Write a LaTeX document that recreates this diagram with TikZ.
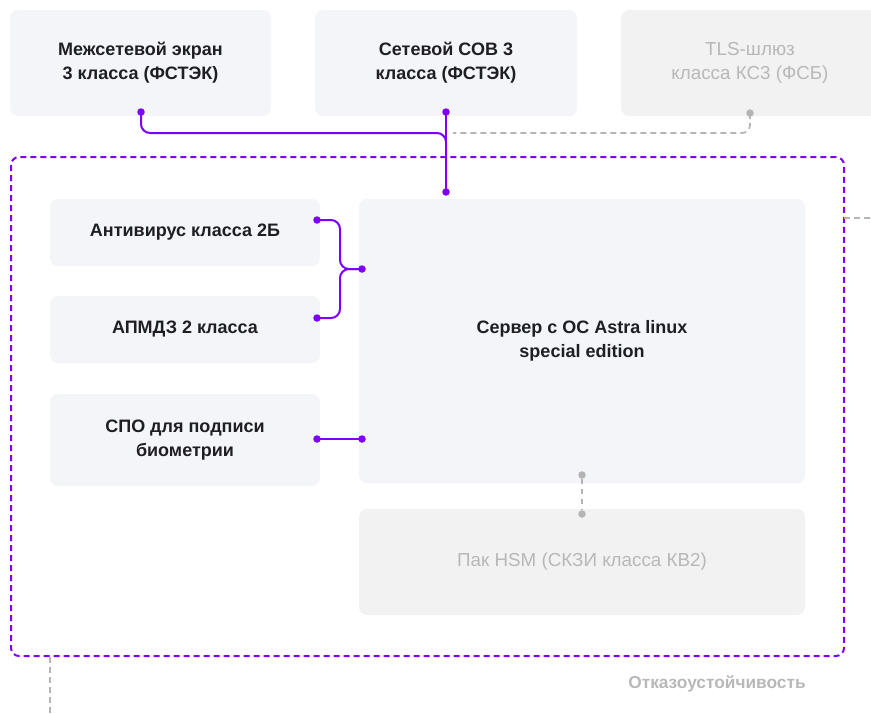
\documentclass[tikz,border=0pt]{standalone}
\usepackage{fontspec}
\setmainfont{Liberation Sans}
\definecolor{boxfill}{HTML}{F4F5F9}
\definecolor{greyfill}{HTML}{F2F2F2}
\definecolor{ink}{HTML}{1E1E24}
\definecolor{greytext}{HTML}{B8B8B8}
\definecolor{greyline}{HTML}{B4B4B4}
\definecolor{violet}{HTML}{7D00FA}
\begin{document}
\begin{tikzpicture}[x=1pt,y=-1pt,
  box/.style={fill=boxfill, rounded corners=8pt, inner sep=0pt, align=center,
    text=ink, font=\fontsize{18}{24}\selectfont\bfseries},
  mutedbox/.style={box, fill=greyfill, text=greytext, font=\fontsize{18.8}{24}\selectfont},
  link/.style={draw=violet, line width=2pt, rounded corners=9pt},
  greylink/.style={draw=greyline, line width=1.8pt, dash pattern=on 6pt off 4pt, rounded corners=8pt},
  vdot/.style={circle, fill=violet, inner sep=0pt, minimum size=7.5pt},
  gdot/.style={circle, fill=greyline, inner sep=0pt, minimum size=7.5pt}]
\useasboundingbox (0,0) rectangle (871,713);
\clip (0,0) rectangle (871,713);

% top row
\node[box, minimum width=261pt, minimum height=106pt] (fw) at (140.5,63)
  {Межсетевой экран\\3 класса (ФСТЭК)};
\node[box, minimum width=262pt, minimum height=106pt] (ids) at (446,63)
  {Сетевой СОВ 3\\класса (ФСТЭК)};
\node[mutedbox, minimum width=258pt, minimum height=106pt] (tls) at (750,63)
  {TLS-шлюз\\класса КС3 (ФСБ)};

% fault-tolerance frame
\draw[violet, line width=2pt, dash pattern=on 6pt off 4pt, rounded corners=8pt]
  (11,157) rectangle (844,656);
\coordinate (frameR) at (844,218);
\coordinate (frameRout) at (871,218);
\coordinate (frameB) at (50,657);
\coordinate (frameBout) at (50,713);
\draw[greylink] (frameR) -- (frameRout);
\draw[greylink] (frameB) -- (frameBout);
\node[text=greytext, font=\fontsize{17.3}{19}\selectfont\bfseries] (ft) at (717,684)
  {Отказоустойчивость};

% inner components
\node[box, minimum width=270pt, minimum height=67pt] (av) at (185,232.5)
  {Антивирус класса 2Б};
\node[box, minimum width=270pt, minimum height=67pt] (apm) at (185,329.5)
  {АПМДЗ 2 класса};
\node[box, minimum width=270pt, minimum height=92pt] (spo) at (185,440)
  {СПО для подписи\\биометрии};
\node[box, minimum width=446pt, minimum height=284pt] (srv) at (582,341)
  {Сервер с ОС Astra linux\\special edition};
\node[mutedbox, minimum width=446pt, minimum height=106pt] (hsm) at (582,562)
  {Пак HSM (СКЗИ класса КВ2)};

% connector end points
\node[vdot] (fwd) at (141,112) {};
\node[vdot] (idsd) at (446,112) {};
\node[vdot] (srvtop) at (446,192) {};
\node[gdot] (tlsd) at (750,113) {};
\node[vdot] (avd) at (317,220) {};
\node[vdot] (apmd) at (317,318) {};
\node[vdot] (srvl1) at (362,269) {};
\node[vdot] (spod) at (317,439) {};
\node[vdot] (srvl2) at (362,439) {};
\node[gdot] (srvb) at (582,475) {};
\node[gdot] (hsmt) at (582,514) {};

% connectors
\draw[link] (fwd.center) |- (446,133) -- (srvtop.center);
\draw[link] (idsd.center) -- (srvtop.center);
\draw[greylink] (tlsd.center) |- (453,133);
\draw[link] (avd.center) -- (340,220) -- (340,269) -- (srvl1.center);
\draw[link] (apmd.center) -- (340,318) -- (340,269) -- (srvl1.center);
\draw[link] (spod.center) -- (srvl2.center);
\draw[greylink, dash pattern=on 5pt off 5pt] (srvb) -- (hsmt);
\end{tikzpicture}
\end{document}
